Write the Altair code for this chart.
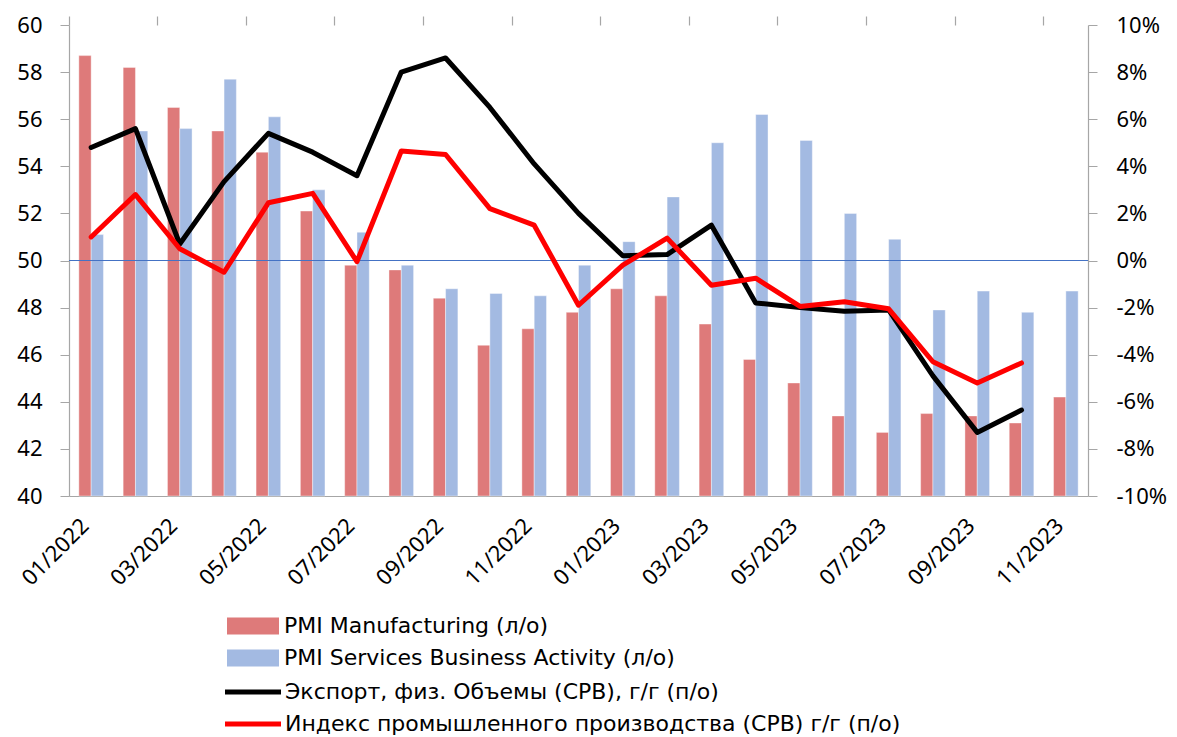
import altair as alt
import pandas as pd

months = ["01/2022", "02/2022", "03/2022", "04/2022", "05/2022", "06/2022",
          "07/2022", "08/2022", "09/2022", "10/2022", "11/2022", "12/2022",
          "01/2023", "02/2023", "03/2023", "04/2023", "05/2023", "06/2023",
          "07/2023", "08/2023", "09/2023", "10/2023", "11/2023"]

pmi_manuf = [58.7, 58.2, 56.5, 55.5, 54.6, 52.1, 49.8, 49.6, 48.4, 46.4, 47.1, 47.8,
             48.8, 48.5, 47.3, 45.8, 44.8, 43.4, 42.7, 43.5, 43.4, 43.1, 44.2]
pmi_serv = [51.1, 55.5, 55.6, 57.7, 56.1, 53.0, 51.2, 49.8, 48.8, 48.6, 48.5, 49.8,
            50.8, 52.7, 55.0, 56.2, 55.1, 52.0, 50.9, 47.9, 48.7, 47.8, 48.7]
export_yoy = [4.8, 5.6, 0.7, 3.35, 5.4, 4.6, 3.6, 8.0, 8.6, 6.5, 4.1, 2.0,
              0.2, 0.25, 1.5, -1.8, -2.0, -2.15, -2.1, -4.9, -7.3, -6.35, None]
ip_yoy = [1.0, 2.8, 0.5, -0.5, 2.45, 2.85, -0.05, 4.65, 4.5, 2.2, 1.5, -1.9,
          -0.2, 0.95, -1.05, -0.75, -1.95, -1.75, -2.05, -4.3, -5.2, -4.35, None]

s1 = "PMI Manufacturing (л/о)"
s2 = "PMI Services Business Activity (л/о)"
s3 = "Экспорт, физ. Объемы (СРВ), г/г (п/о)"
s4 = "Индекс промышленного производства (СРВ) г/г (п/о)"

left_ticks = list(range(40, 61, 2))
right_ticks = list(range(-10, 11, 2))
threshold = [50]

bar_rows = []
for m, a, b in zip(months, pmi_manuf, pmi_serv):
    bar_rows.append({"month": m, "series": s1, "value": a})
    bar_rows.append({"month": m, "series": s2, "value": b})
bar_df = pd.DataFrame(bar_rows)

line_rows = []
for m, a, b in zip(months, export_yoy, ip_yoy):
    if a is not None:
        line_rows.append({"month": m, "series": s3, "value": a})
    if b is not None:
        line_rows.append({"month": m, "series": s4, "value": b})
line_df = pd.DataFrame(line_rows)

AXIS_FONT = "Noto Sans"
LEG_FONT = "DejaVu Sans"
GRAY = "#A6A6A6"
RED_BAR = "#DE7A7A"
BLUE_BAR = "#A3BAE2"

bars = alt.Chart(bar_df).mark_bar(stroke="white", strokeWidth=0.4).encode(
    x=alt.X("month:N", sort=months,
            scale=alt.Scale(paddingInner=0, paddingOuter=0),
            axis=alt.Axis(values=months[::2], ticks=False, tickSize=0, domain=True,
                          domainColor=GRAY, domainWidth=1.2,
                          labelAngle=-45, labelAlign="right", labelBaseline="middle",
                          labelPadding=26, labelOffset=-6, labelFontSize=22,
                          labelFont=AXIS_FONT,
                          labelColor="black", labelOverlap=False, title=None)),
    xOffset=alt.XOffset("series:N", sort=[s1, s2],
                        scale=alt.Scale(paddingInner=0, paddingOuter=0.8)),
    y=alt.Y("value:Q",
            scale=alt.Scale(domain=[40, 60], nice=False, zero=False),
            axis=alt.Axis(orient="left", values=left_ticks, grid=False,
                          domainColor=GRAY, domainWidth=1.2, tickColor=GRAY,
                          tickSize=9, labelPadding=18, labelFontSize=22,
                          labelFont=AXIS_FONT, labelColor="black", title=None)),
    y2=alt.datum(40),
    color=alt.Color("series:N",
                    scale=alt.Scale(domain=[s1, s2], range=[RED_BAR, BLUE_BAR]),
                    legend=alt.Legend(title=None, orient="none", legendX=173, legendY=590,
                                      symbolType="M-4,-1.32H4V1.32H-4Z", symbolSize=169,
                                      symbolStrokeWidth=0, symbolOpacity=1,
                                      labelFontSize=22, labelFont=LEG_FONT, labelColor="black",
                                      labelOffset=20, rowPadding=10, padding=0,
                                      labelLimit=0)),
)

rule = alt.Chart(pd.DataFrame({"v": threshold})).mark_rule(
    color="#4472C4", strokeWidth=1.2
).encode(
    y=alt.Y("v:Q", scale=alt.Scale(domain=[40, 60], nice=False, zero=False), axis=None)
)

lines = alt.Chart(line_df).mark_line(strokeWidth=5, strokeJoin="round", strokeCap="round").encode(
    x=alt.X("month:N", sort=months,
            axis=alt.Axis(values=months[::2], bandPosition=0, labels=False, ticks=True,
                          tickSize=9, tickColor=GRAY, tickWidth=1.2, domain=False, title=None)),
    y=alt.Y("value:Q",
            scale=alt.Scale(domain=[-10, 10], nice=False),
            axis=alt.Axis(orient="right", values=right_ticks, grid=False,
                          labelExpr="datum.value + '%'",
                          domainColor=GRAY, domainWidth=1.2, tickColor=GRAY,
                          tickSize=9, labelPadding=19, labelFontSize=22,
                          labelFont=AXIS_FONT, labelColor="black", title=None)),
    stroke=alt.Stroke("series:N",
                      scale=alt.Scale(domain=[s3, s4], range=["#000000", "#FF0000"]),
                      legend=alt.Legend(title=None, orient="none", legendX=173, legendY=656,
                                        symbolType="M-4,0H4", symbolSize=196,
                                        symbolStrokeWidth=5,
                                        labelFontSize=22, labelFont=LEG_FONT, labelColor="black",
                                        labelOffset=21, rowPadding=10, padding=0,
                                        labelLimit=0)),
    detail="series:N",
)

chart = alt.layer(bars, rule, lines).resolve_scale(
    y="independent"
).resolve_axis(
    x="independent", y="independent"
).properties(
    width=1019, height=471,
    autosize=alt.AutoSizeParams(type="none"),
    padding={"left": 61, "top": 17, "right": 81, "bottom": 241},
).configure_view(stroke=None).configure_axis(grid=False)

chart.save("out.html", embed_options={"renderer": "svg", "actions": False})
